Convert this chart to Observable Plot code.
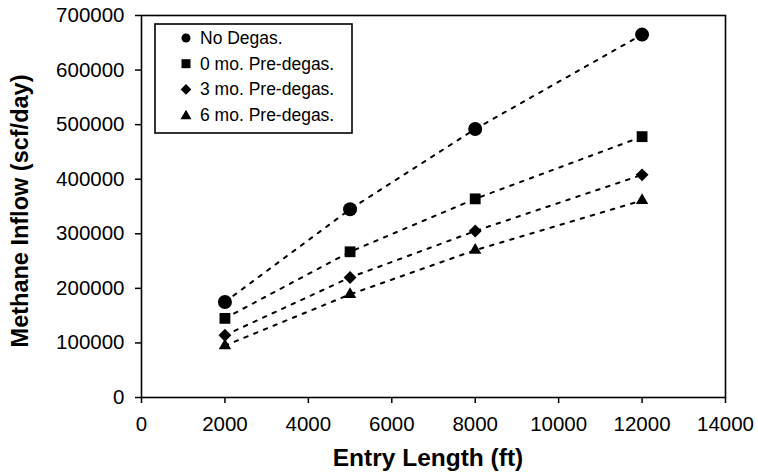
<!DOCTYPE html>
<html>
<head>
<meta charset="utf-8">
<script src="https://cdn.jsdelivr.net/npm/d3@7"></script>
<script src="https://cdn.jsdelivr.net/npm/@observablehq/plot@0.6"></script>
<style>
  html, body { margin: 0; padding: 0; background: #fff; }
  #chart { width: 758px; height: 473px; }
</style>
</head>
<body>
<div id="chart"></div>
<script>
// ---- data ----
const entryLength = [2000, 5000, 8000, 12000];
const noDegas   = [175000, 345000, 492000, 665000];
const pre0      = [145000, 267000, 364000, 478000];
const pre3      = [114000, 220000, 305000, 408000];
const pre6      = [95000, 189000, 270000, 361000];
const seriesNames = ["No Degas.", "0 mo. Pre-degas.", "3 mo. Pre-degas.", "6 mo. Pre-degas."];
const seriesValues = [noDegas, pre0, pre3, pre6];
const xTicks = [0, 2000, 4000, 6000, 8000, 10000, 12000, 14000];
const yTicks = [0, 100000, 200000, 300000, 400000, 500000, 600000, 700000];
const xTitle = "Entry Length (ft)";
const yTitle = "Methane Inflow (scf/day)";

// ---- styles (kept separate from data) ----
const symbols = ["circle", "square", "diamond2", "triangle"];
const dotR = [7, 6.1, 5.8, 4.6];
const legendSize = [64, 81, 73, 52];
const d3Symbols = [d3.symbolCircle, d3.symbolSquare, d3.symbolDiamond2, d3.symbolTriangle];

const rows = seriesNames.flatMap((s, i) =>
  entryLength.map((x, j) => ({series: s, x, y: seriesValues[i][j]})));

const W = 758, H = 473;
const mL = 141, mR = 33, mT = 15, mB = 76;

const dotMarks = seriesNames.map((s, i) =>
  Plot.dot(rows.filter(d => d.series === s), {
    x: "x", y: "y", symbol: () => symbols[i], r: dotR[i], fill: "black", stroke: "none"
  }));

const svg = Plot.plot({
  width: W, height: H,
  marginLeft: mL, marginRight: mR, marginTop: mT, marginBottom: mB,
  style: {fontFamily: "'Liberation Sans', Arial, Helvetica, sans-serif", fontSize: "20.5px", color: "black", background: "white", overflow: "visible"},
  x: {domain: [0, 14000]},
  y: {domain: [0, 700000]},
  symbol: {type: "identity"},
  marks: [
    Plot.line(rows, {x: "x", y: "y", z: "series", stroke: "black", strokeWidth: 2, strokeDasharray: "3.5,7"}),
    ...dotMarks,
    Plot.frame({stroke: "black", strokeWidth: 1.6}),
    Plot.axisX({ticks: xTicks, tickSize: 6, tickPadding: 13, tickFormat: d3.format("d"), label: null, strokeWidth: 1.5}),
    Plot.axisY({ticks: yTicks, tickSize: 6, tickPadding: 11, tickFormat: d3.format("d"), label: null, strokeWidth: 1.5})
  ]
});

document.getElementById("chart").appendChild(svg);

const sel = d3.select(svg);
const font = "'Liberation Sans', Arial, Helvetica, sans-serif";

// axis titles
sel.append("text")
  .attr("x", (mL + (W - mR)) / 2 - 5)
  .attr("y", 466)
  .attr("text-anchor", "middle")
  .attr("font-family", font)
  .attr("font-size", 24.5)
  .attr("font-weight", "bold")
  .attr("fill", "black")
  .text(xTitle);

sel.append("text")
  .attr("transform", `translate(28,${(mT + (H - mB)) / 2 + 5}) rotate(-90)`)
  .attr("text-anchor", "middle")
  .attr("font-family", font)
  .attr("font-size", 23.5)
  .attr("font-weight", "bold")
  .attr("fill", "black")
  .text(yTitle);

// legend
const lg = sel.append("g").attr("transform", `translate(${mL + 14},${mT + 9})`);
lg.append("rect")
  .attr("x", 0).attr("y", 0).attr("width", 197).attr("height", 109)
  .attr("fill", "white").attr("stroke", "black").attr("stroke-width", 1.6);
seriesNames.forEach((s, i) => {
  const cy = 14 + i * 25.7;
  lg.append("path")
    .attr("d", d3.symbol(d3Symbols[i], legendSize[i])())
    .attr("transform", `translate(31,${cy + (i === 3 ? 1 : 0)})`)
    .attr("fill", "black");
  lg.append("text")
    .attr("x", 45).attr("y", cy + 6)
    .attr("text-anchor", "start")
    .attr("font-family", font)
    .attr("font-size", 17.5)
    .attr("fill", "black")
    .text(s);
});
</script>
</body>
</html>
